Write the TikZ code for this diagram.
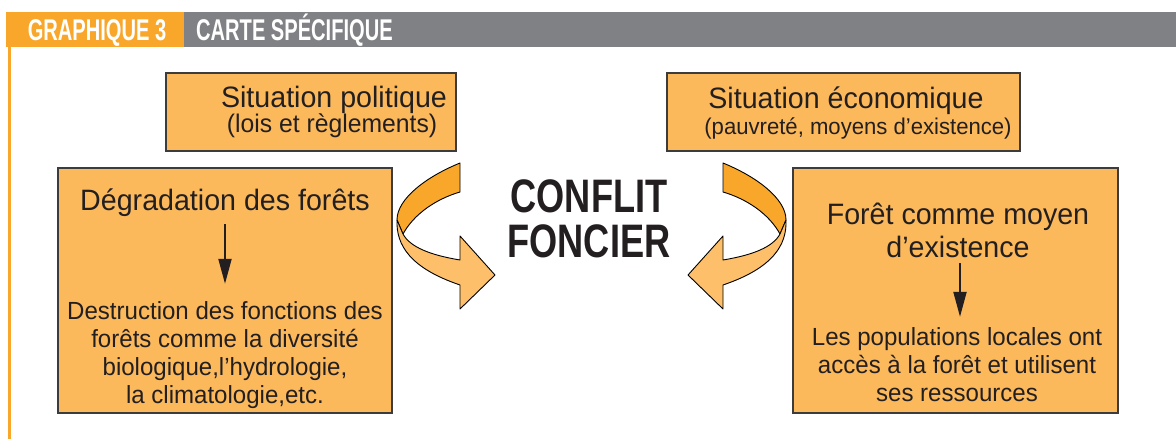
\documentclass[tikz,border=0pt]{standalone}
\usepackage{fontspec}
\setmainfont{Liberation Sans}
\newfontfamily\bodyf{Liberation Sans}[FakeStretch=0.97]
\newfontfamily\headf{Liberation Sans Bold}[FakeStretch=0.67]
\newfontfamily\bigf{Liberation Sans Bold}[FakeStretch=0.77]
\usetikzlibrary{arrows.meta}
\definecolor{boxfill}{HTML}{FBB95B}
\definecolor{boxline}{HTML}{3C3C3C}
\definecolor{arrdark}{HTML}{F9A72B}
\definecolor{arrlight}{HTML}{FDBF6A}
\definecolor{hdorange}{HTML}{F9A72B}
\definecolor{hdgray}{HTML}{808184}
\definecolor{ink}{HTML}{231F20}
\tikzset{
  box/.style={draw=boxline, line width=1.2pt, fill=boxfill},
  bigtxt/.style={inner sep=0pt, anchor=base, text=ink, align=center, font=\bodyf\fontsize{29.5}{33}\selectfont},
  smalltxt/.style={inner sep=0pt, anchor=base, text=ink, align=center, font=\bodyf\fontsize{24.8}{28}\selectfont},
  hdtxt/.style={inner sep=0pt, anchor=base, text=white, font=\headf\fontsize{30}{30}\selectfont},
  conflit/.style={inner sep=0pt, anchor=base, text=ink, align=center, font=\bigf\fontsize{47}{45}\selectfont},
  downarrow/.style={draw=ink, line width=2pt, -{Triangle[length=25pt,width=13pt]}},
  ribbon/.style={draw=black, line width=0.9pt, line join=round},
}
\begin{document}
\begin{tikzpicture}[x=1pt,y=-1pt]
\useasboundingbox (0,0) rectangle (1176,439);
% header
\fill[hdorange] (6,12) rectangle (184,46.5);
\fill[hdgray] (184,12) rectangle (1176,46.5);
\fill[hdorange] (7.5,46.5) rectangle (10.5,439);
\node[hdtxt] (g3) at (97,40) {GRAPHIQUE 3};
\node[hdtxt, anchor=base west] (cs) at (196,40) {CARTE SPÉCIFIQUE};
% top boxes
\draw[box] (166,73) rectangle (456,151);
\node[bigtxt] (sp1) at (334,107) {Situation politique};
\node[smalltxt, font=\bodyf\fontsize{25.5}{28}\selectfont] (sp2) at (332,132) {(lois et règlements)};
\draw[box] (667,73) rectangle (1020,151);
\node[bigtxt] (se1) at (846,108) {Situation économique};
\node[smalltxt, font=\bodyf\fontsize{22.8}{28}\selectfont] (se2) at (858,134) {(pauvreté, moyens d’existence)};
% left box
\draw[box] (58,168) rectangle (392,413);
\node[bigtxt] (dh) at (225,210) {Dégradation des forêts};
\node[smalltxt] (db) at (225,403) {Destruction des fonctions des\\forêts comme la diversité\\biologique,l’hydrologie,\\la climatologie,etc.};
\draw[downarrow, shorten <=8pt, shorten >=17pt] (dh.south) -- (db.north);
% right box
\draw[box] (793,168) rectangle (1118,413);
\node[bigtxt] (fh) at (958,257) {Forêt comme moyen\\d’existence};
\node[smalltxt] (fb) at (957,401) {Les populations locales ont\\accès à la forêt et utilisent\\ses ressources};
\draw[downarrow, shorten <=6pt, shorten >=10pt] (fh.south -| 960,0) -- (fb.north -| 960,0);
% centre text
\node[conflit] (cf) at (589,257) {CONFLIT\\FONCIER};
% left ribbon arrow
\draw[ribbon, fill=arrdark] (460,163) .. controls (428,176) and (397,198) .. (397,220) -- (403,234) .. controls (414,214) and (436,199) .. (460,192) -- cycle;
\draw[ribbon, fill=arrlight] (397,220) .. controls (396,245) and (410,268) .. (460,285) -- (460,309) -- (495,275) -- (460,236) -- (460,260) .. controls (430,255) and (410,247) .. (403,234) -- cycle;
% right ribbon arrow
\draw[ribbon, fill=arrdark] (723,163) .. controls (755,176) and (786,198) .. (786,220) -- (780,234) .. controls (769,214) and (747,199) .. (723,192) -- cycle;
\draw[ribbon, fill=arrlight] (786,220) .. controls (787,245) and (773,268) .. (723,285) -- (723,309) -- (688,275) -- (723,236) -- (723,260) .. controls (753,255) and (773,247) .. (780,234) -- cycle;
\end{tikzpicture}
\end{document}
